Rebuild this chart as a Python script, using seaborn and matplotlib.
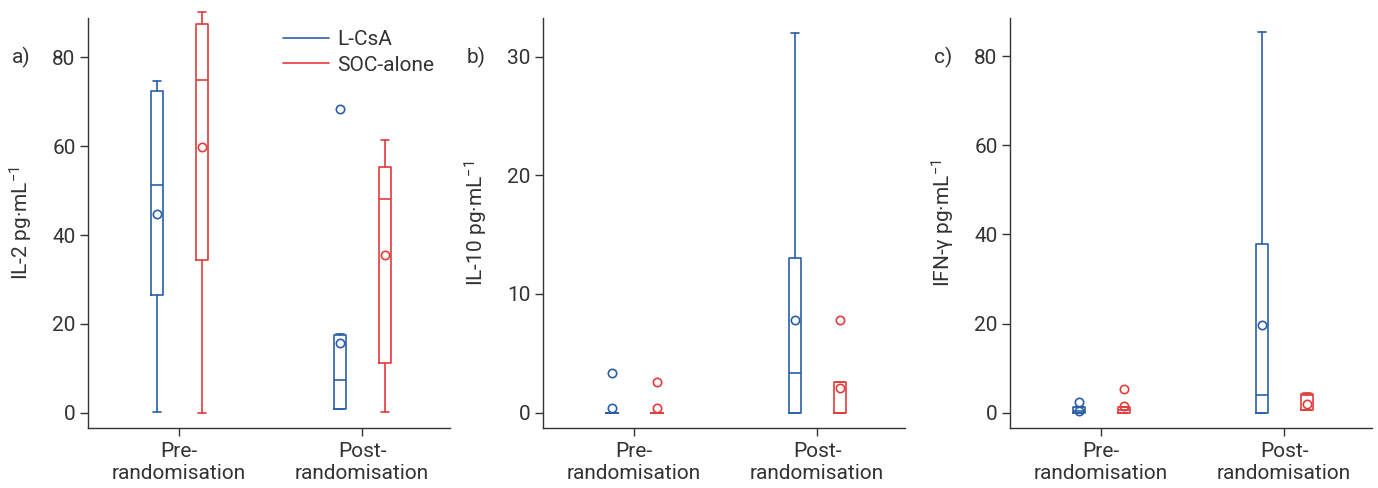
import numpy as np
import matplotlib
matplotlib.use("Agg")
import matplotlib.pyplot as plt
from matplotlib.lines import Line2D
import seaborn as sns

# categories and groups
timepoints = ["Pre-\nrandomisation", "Post-\nrandomisation"]
groups = ["L-CsA", "SOC-alone"]
colours = {"L-CsA": "#2a5fa8", "SOC-alone": "#e23c3c"}

# IL-2 summary stats per group, [pre, post]
il2_lcsa_whislo = [0.2, 0.9]
il2_lcsa_q1 = [26.6, 0.9]
il2_lcsa_med = [51.2, 7.4]
il2_lcsa_q3 = [72.3, 17.6]
il2_lcsa_whishi = [74.6, 17.8]
il2_lcsa_mean = [44.8, 15.8]
il2_lcsa_fliers = [[], [68.3]]
il2_soc_whislo = [0.0, 0.2]
il2_soc_q1 = [34.3, 11.3]
il2_soc_med = [74.8, 48.2]
il2_soc_q3 = [87.4, 55.4]
il2_soc_whishi = [90.1, 61.3]
il2_soc_mean = [59.9, 35.6]
il2_soc_fliers = [[], []]

# IL-10
il10_lcsa_whislo = [0.0, 0.0]
il10_lcsa_q1 = [0.0, 0.0]
il10_lcsa_med = [0.0, 3.3]
il10_lcsa_q3 = [0.0, 13.05]
il10_lcsa_whishi = [0.0, 32.0]
il10_lcsa_mean = [0.4, 7.8]
il10_lcsa_fliers = [[3.3], []]
il10_soc_whislo = [0.0, 0.0]
il10_soc_q1 = [0.0, 0.0]
il10_soc_med = [0.0, 0.0]
il10_soc_q3 = [0.0, 2.6]
il10_soc_whishi = [0.0, 2.6]
il10_soc_mean = [0.4, 2.1]
il10_soc_fliers = [[2.6], [7.8]]

# IFN-gamma
ifn_lcsa_whislo = [0.0, 0.0]
ifn_lcsa_q1 = [0.0, 0.0]
ifn_lcsa_med = [0.3, 4.0]
ifn_lcsa_q3 = [1.2, 37.8]
ifn_lcsa_whishi = [1.2, 85.4]
ifn_lcsa_mean = [0.4, 19.6]
ifn_lcsa_fliers = [[2.4], []]
ifn_soc_whislo = [0.0, 0.6]
ifn_soc_q1 = [0.0, 0.6]
ifn_soc_med = [0.6, 4.0]
ifn_soc_q3 = [1.2, 4.2]
ifn_soc_whishi = [1.2, 4.5]
ifn_soc_mean = [1.4, 1.9]
ifn_soc_fliers = [[5.2], []]

panels = [
    ("a)", "IL-2 pg·mL$^{-1}$", (-3.4, 88.8), [0, 20, 40, 60, 80],
     {"L-CsA": (il2_lcsa_whislo, il2_lcsa_q1, il2_lcsa_med, il2_lcsa_q3, il2_lcsa_whishi, il2_lcsa_mean, il2_lcsa_fliers),
      "SOC-alone": (il2_soc_whislo, il2_soc_q1, il2_soc_med, il2_soc_q3, il2_soc_whishi, il2_soc_mean, il2_soc_fliers)}),
    ("b)", "IL-10 pg·mL$^{-1}$", (-1.3, 33.25), [0, 10, 20, 30],
     {"L-CsA": (il10_lcsa_whislo, il10_lcsa_q1, il10_lcsa_med, il10_lcsa_q3, il10_lcsa_whishi, il10_lcsa_mean, il10_lcsa_fliers),
      "SOC-alone": (il10_soc_whislo, il10_soc_q1, il10_soc_med, il10_soc_q3, il10_soc_whishi, il10_soc_mean, il10_soc_fliers)}),
    ("c)", "IFN-γ pg·mL$^{-1}$", (-3.46, 88.6), [0, 20, 40, 60, 80],
     {"L-CsA": (ifn_lcsa_whislo, ifn_lcsa_q1, ifn_lcsa_med, ifn_lcsa_q3, ifn_lcsa_whishi, ifn_lcsa_mean, ifn_lcsa_fliers),
      "SOC-alone": (ifn_soc_whislo, ifn_soc_q1, ifn_soc_med, ifn_soc_q3, ifn_soc_whishi, ifn_soc_mean, ifn_soc_fliers)}),
]

sns.set_style("ticks")
plt.rcParams["font.family"] = ["Roboto", "DejaVu Sans"]
plt.rcParams["mathtext.default"] = "regular"
ink = "#333333"
plt.rcParams.update({"axes.edgecolor": ink, "xtick.color": ink, "ytick.color": ink,
                     "text.color": ink, "axes.labelcolor": ink})
fs = 15

fig = plt.figure(figsize=(13.78, 4.88), dpi=100)
lefts = [88, 543, 1010]
offsets = {"L-CsA": -0.12, "SOC-alone": 0.125}

for (tag, ylab, ylim, yticks, stats), left in zip(panels, lefts):
    ax = fig.add_axes([left / 1378, 60 / 488, 362 / 1378, 410 / 488])
    for g in groups:
        wl, q1, med, q3, wh, mean, fl = stats[g]
        bx = [dict(whislo=wl[i], q1=q1[i], med=med[i], q3=q3[i], whishi=wh[i],
                   mean=mean[i], fliers=fl[i]) for i in range(len(timepoints))]
        pos = np.arange(len(timepoints)) + offsets[g]
        c = colours[g]
        art = ax.bxp(bx, positions=pos, widths=0.066, capwidths=0.045,
                     showmeans=True, showfliers=True, manage_ticks=False,
                     boxprops=dict(color=c, lw=1.2),
                     whiskerprops=dict(color=c, lw=1.2),
                     capprops=dict(color=c, lw=1.2),
                     medianprops=dict(color=c, lw=1.2),
                     meanprops=dict(marker="o", markersize=6, markerfacecolor="none",
                                    markeredgecolor=c, markeredgewidth=1.2),
                     flierprops=dict(marker="o", markersize=6, markerfacecolor="none",
                                     markeredgecolor=c, markeredgewidth=1.2))
        for key in art:
            for a in art[key]:
                a.set_clip_on(False)
    ax.set_xlim(-0.495, 1.48)
    ax.set_ylim(*ylim)
    ax.set_yticks(yticks)
    ax.set_xticks(range(len(timepoints)))
    ax.set_xticklabels(timepoints, fontsize=fs, linespacing=1.2)
    ax.tick_params(axis="y", labelsize=fs, length=6, width=1.0, pad=3)
    ax.tick_params(axis="x", length=6, width=1.0, pad=4)
    ax.set_ylabel(ylab, fontsize=fs, labelpad=12)
    for s in ["left", "bottom"]:
        ax.spines[s].set_linewidth(1.0)
    sns.despine(ax=ax)
    fig.text((left - 76) / 1378, 1 - 57 / 488, tag, fontsize=fs, va="center", ha="left")
    if tag == "a)":
        handles = [Line2D([], [], color=colours[g], lw=1.2) for g in groups]
        ax.legend(handles, groups, loc="upper right", bbox_to_anchor=(0.985, 0.995),
                  frameon=False, fontsize=fs, handlelength=2.2, handletextpad=0.4,
                  labelspacing=0.3, borderpad=0)

fig.savefig("out.png", dpi=100)
